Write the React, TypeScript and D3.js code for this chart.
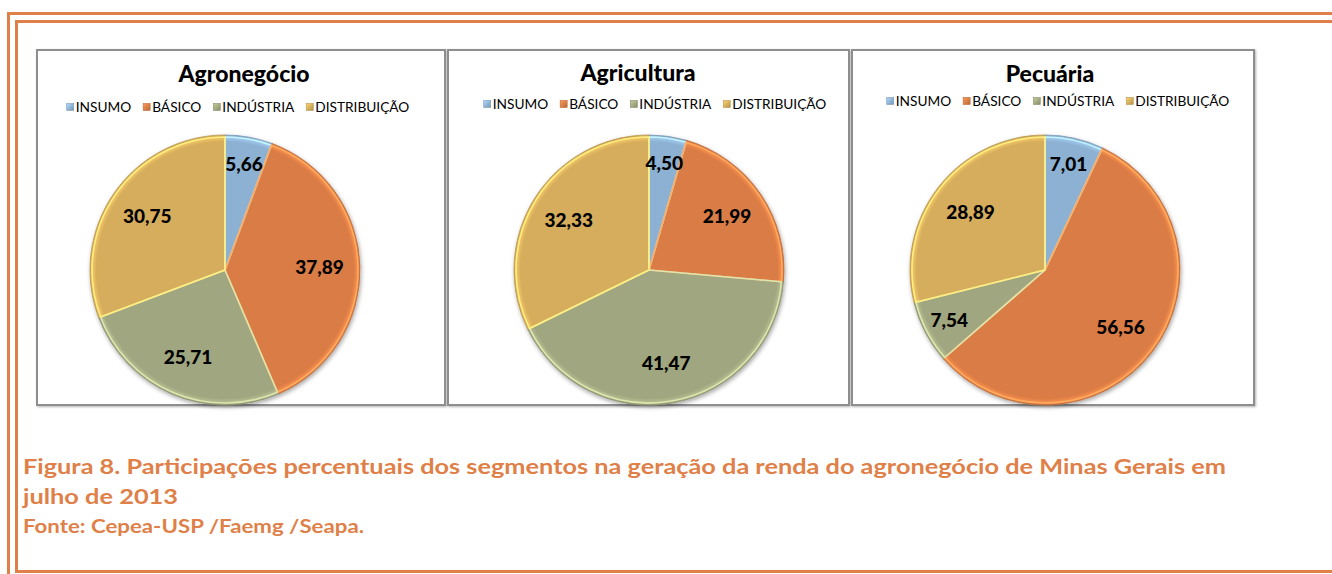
import React, { useEffect, useRef } from "react";
import * as d3 from "d3";

const categories = ["INSUMO", "BÁSICO", "INDÚSTRIA", "DISTRIBUIÇÃO"];
const panelTitles = ["Agronegócio", "Agricultura", "Pecuária"];
const agronegocio = [5.66, 37.89, 25.71, 30.75];
const agricultura = [4.5, 21.99, 41.47, 32.33];
const pecuaria = [7.01, 56.56, 7.54, 28.89];
const captionLines = [
  "Figura 8. Participações percentuais dos segmentos na geração da renda do agronegócio de Minas Gerais em",
  "julho de 2013",
];
const sourceLine = "Fonte: Cepea-USP /Faemg /Seapa.";

const seriesList = [agronegocio, agricultura, pecuaria];
const colors = ["#8DB1D2", "#D97C44", "#A0A67F", "#D5AD5B"];
const orange = "#DF8048";

// layout (positions only)
const panels = [
  { x0: 37, x1: 445, cx: 225, titleX: 244, titleY: 82, legendX: 238, legendY: 112 },
  { x0: 448, x1: 849, cx: 649, titleX: 638, titleY: 81, legendX: 655, legendY: 109 },
  { x0: 852, x1: 1254, cx: 1045, titleX: 1050, titleY: 82, legendX: 1058, legendY: 106 },
];
const panelTop = 50;
const panelBottom = 405;
const pieCY = 270;
const radius = 135;

const locale = d3.formatLocale({ decimal: ",", thousands: ".", grouping: [3], currency: ["R$", ""] });
const fmt = locale.format(".2f");

export default function App() {
  const ref = useRef<SVGSVGElement | null>(null);

  useEffect(() => {
    const svg = d3.select(ref.current);
    svg.selectAll("*").remove();
    const defs = svg.append("defs");
    const f = defs.append("filter").attr("id", "shadow").attr("x", "-20%").attr("y", "-20%").attr("width", "140%").attr("height", "140%");
    f.append("feDropShadow").attr("dx", 1).attr("dy", 2).attr("stdDeviation", 2).attr("flood-color", "#000").attr("flood-opacity", 0.35);
    const pf = defs.append("filter").attr("id", "pshadow").attr("x", "-5%").attr("y", "-5%").attr("width", "110%").attr("height", "110%");
    pf.append("feDropShadow").attr("dx", 1).attr("dy", 1).attr("stdDeviation", 0.8).attr("flood-color", "#000").attr("flood-opacity", 0.3);

    colors.forEach((c, i) => {
      const g = defs
        .append("radialGradient")
        .attr("id", `rg${i}`)
        .attr("gradientUnits", "userSpaceOnUse")
        .attr("cx", 0)
        .attr("cy", 0)
        .attr("r", radius);
      g.append("stop").attr("offset", "0%").attr("stop-color", c);
      g.append("stop").attr("offset", "95%").attr("stop-color", c);
      g.append("stop").attr("offset", "98%").attr("stop-color", d3.color(c)!.brighter(0.35).toString());
      g.append("stop").attr("offset", "100%").attr("stop-color", d3.color(c)!.darker(0.2).toString());
      const lg = defs.append("linearGradient").attr("id", `lg${i}`).attr("x1", 0).attr("y1", 0).attr("x2", 1).attr("y2", 1);
      lg.append("stop").attr("offset", "0%").attr("stop-color", d3.color(c)!.brighter(0.6).toString());
      lg.append("stop").attr("offset", "100%").attr("stop-color", d3.color(c)!.darker(0.5).toString());
    });

    // orange frame
    const fr = svg.append("g").attr("fill", orange);
    fr.append("rect").attr("x", 7).attr("y", 12).attr("width", 1332 - 7).attr("height", 3);
    fr.append("rect").attr("x", 7).attr("y", 12).attr("width", 3).attr("height", 574 - 12);
    fr.append("rect").attr("x", 15).attr("y", 20).attr("width", 1332 - 15).attr("height", 3);
    fr.append("rect").attr("x", 15).attr("y", 20).attr("width", 3).attr("height", 573 - 20);
    fr.append("rect").attr("x", 15).attr("y", 570).attr("width", 1332 - 15).attr("height", 3);

    const pie = d3.pie<number>().sort(null).value((d) => d);
    const arc = d3.arc<d3.PieArcDatum<number>>().innerRadius(0).outerRadius(radius);
    const arcIn = d3.arc<d3.PieArcDatum<number>>().innerRadius(0).outerRadius(radius - 2);

    panels.forEach((p, pi) => {
      const g = svg.append("g");
      g.append("rect")
        .attr("x", p.x0)
        .attr("y", panelTop)
        .attr("width", p.x1 - p.x0)
        .attr("height", panelBottom - panelTop)
        .attr("fill", "#fff")
        .attr("stroke", "#8E8E8E")
        .attr("stroke-width", 2)
        .attr("filter", "url(#pshadow)");

      g.append("text")
        .attr("x", p.titleX)
        .attr("y", p.titleY)
        .attr("text-anchor", "middle")
        .attr("font-family", "Lato, sans-serif")
        .attr("font-weight", 900)
        .attr("font-size", 23)
        .attr("fill", "#000")
        .text(panelTitles[pi]);

      // legend
      const lg = g.append("g");
      const items: { t: d3.Selection<SVGTextElement, unknown, null, undefined>; w: number }[] = [];
      categories.forEach((c) => {
        const t = lg
          .append("text")
          .attr("font-family", "Lato, sans-serif")
          .attr("font-size", 13.7)
          .attr("fill", "#000")
          .attr("y", p.legendY)
          .text(c);
        items.push({ t, w: (t.node() as SVGTextElement).getComputedTextLength() });
      });
      const markerW = 7;
      const markerGap = 2;
      const itemGap = 12;
      const total = d3.sum(items, (d) => markerW + markerGap + d.w) + itemGap * (items.length - 1);
      let x = p.legendX - total / 2;
      items.forEach((it, i) => {
        lg.append("rect")
          .attr("x", x)
          .attr("y", p.legendY - 8.5)
          .attr("width", markerW)
          .attr("height", markerW)
          .attr("fill", `url(#lg${i})`)
          .attr("stroke", d3.color(colors[i])!.darker(0.4).toString())
          .attr("stroke-width", 0.6);
        it.t.attr("x", x + markerW + markerGap);
        x += markerW + markerGap + it.w + itemGap;
      });

      // pie
      const arcs = pie(seriesList[pi]);
      const pg = g.append("g").attr("transform", `translate(${p.cx},${pieCY})`);
      const sg = pg.append("g").attr("filter", "url(#shadow)");
      sg.selectAll("path.base")
        .data(arcs)
        .join("path")
        .attr("class", "base")
        .attr("d", arc)
        .attr("fill", (_d, i) => `url(#rg${i})`)
        .attr("stroke", (_d, i) => d3.color(colors[i])!.darker(0.35).toString())
        .attr("stroke-width", 0.8)
        .attr("stroke-linejoin", "round");
      pg.selectAll("path.rim")
        .data(arcs)
        .join("path")
        .attr("class", "rim")
        .attr("d", arcIn)
        .attr("fill", "none")
        .attr("stroke", (_d, i) => d3.color(colors[i])!.brighter(0.9).toString())
        .attr("stroke-width", 1.6)
        .attr("stroke-linejoin", "round");

      pg.selectAll("text.lbl")
        .data(arcs)
        .join("text")
        .attr("class", "lbl")
        .attr("transform", (d) => {
          const lr = radius * (d.data < 10 ? 0.8 : 0.7);
          const a = (d.startAngle + d.endAngle) / 2;
          return `translate(${Math.sin(a) * lr},${-Math.cos(a) * lr})`;
        })
        .attr("text-anchor", "middle")
        .attr("dy", "0.36em")
        .attr("font-family", "Lato, sans-serif")
        .attr("font-weight", 900)
        .attr("font-size", 19)
        .attr("fill", "#000")
        .text((d) => fmt(d.data));
    });

    // caption
    const cap = svg.append("g").attr("font-family", "Lato, sans-serif").attr("font-weight", 700).attr("fill", orange);
    cap.append("text").attr("x", 23).attr("y", 474).attr("font-size", 20).attr("textLength", 1203).attr("lengthAdjust", "spacingAndGlyphs").text(captionLines[0]);
    cap.append("text").attr("x", 23).attr("y", 504).attr("font-size", 20).attr("textLength", 155).attr("lengthAdjust", "spacingAndGlyphs").text(captionLines[1]);
    cap.append("text").attr("x", 23).attr("y", 533).attr("font-size", 18).attr("textLength", 341).attr("lengthAdjust", "spacingAndGlyphs").text(sourceLine);
  }, []);

  return (
    <svg
      ref={ref}
      width={1332}
      height={574}
      style={{ position: "absolute", left: 0, top: 0, background: "#fff" }}
    />
  );
}
